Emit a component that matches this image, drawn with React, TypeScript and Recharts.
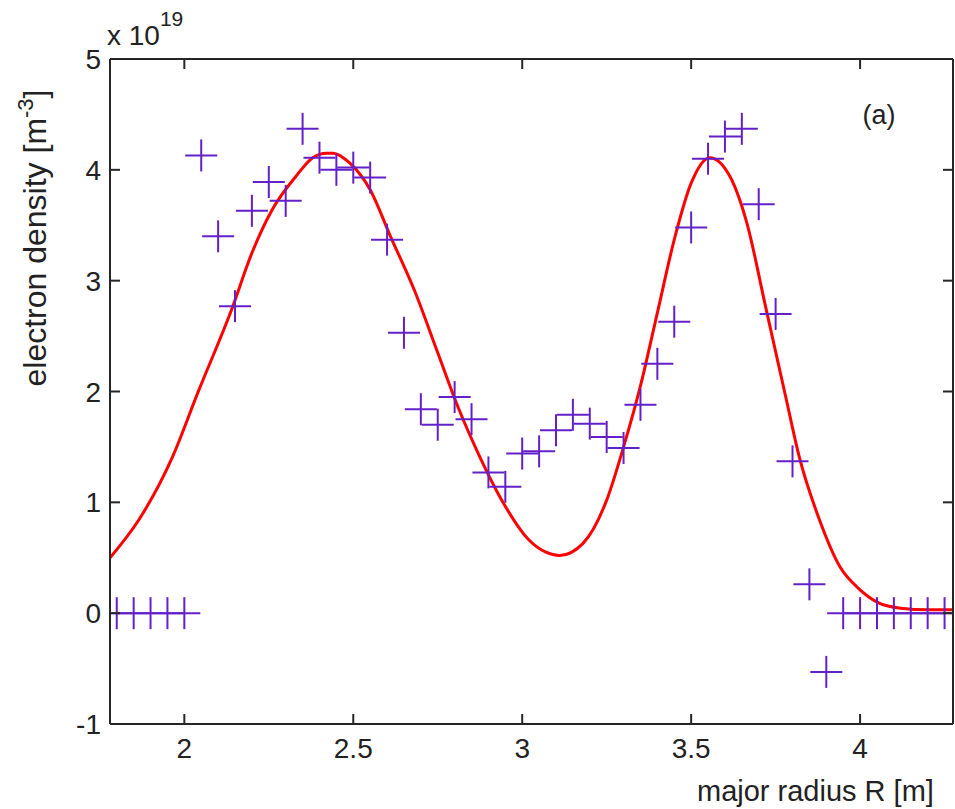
import React from 'react';
import { ComposedChart, Line, Scatter, XAxis, YAxis } from 'recharts';

// measured density points (units of 1e19 m^-3)
const radius = [
  1.8, 1.85, 1.9, 1.95, 2.0, 2.05, 2.1, 2.15, 2.2, 2.25,
  2.3, 2.35, 2.4, 2.45, 2.5, 2.55, 2.6, 2.65, 2.7, 2.75,
  2.8, 2.85, 2.9, 2.95, 3.0, 3.05, 3.1, 3.15, 3.2, 3.25,
  3.3, 3.35, 3.4, 3.45, 3.5, 3.55, 3.6, 3.65, 3.7, 3.75,
  3.8, 3.85, 3.9, 3.95, 4.0, 4.05, 4.1, 4.15, 4.2, 4.25,
];
const density = [
  0, 0, 0, 0, 0, 4.13, 3.40, 2.77, 3.63, 3.89,
  3.72, 4.37, 4.11, 4.00, 4.02, 3.93, 3.37, 2.53, 1.84, 1.70,
  1.95, 1.75, 1.27, 1.14, 1.44, 1.46, 1.65, 1.79, 1.71, 1.59,
  1.49, 1.88, 2.25, 2.63, 3.48, 4.10, 4.30, 4.37, 3.69, 2.70,
  1.37, 0.26, -0.53, 0, 0, 0, 0, 0, 0, 0,
];

// fitted profile
const fitR = [
  1.78, 1.865, 1.965, 2.04, 2.14, 2.2, 2.26, 2.33, 2.38, 2.42,
  2.44, 2.49, 2.55, 2.61, 2.68, 2.75, 2.81, 2.87, 2.945, 3.02,
  3.07, 3.11, 3.18, 3.25, 3.3, 3.35, 3.4, 3.45, 3.5, 3.555,
  3.615, 3.665, 3.72, 3.78, 3.82, 3.88, 3.94, 4.0, 4.05, 4.12,
  4.2, 4.275,
];
const fitN = [
  0.50, 0.84, 1.41, 1.99, 2.74, 3.25, 3.64, 3.94, 4.11, 4.15,
  4.15, 4.06, 3.82, 3.40, 2.92, 2.35, 1.86, 1.44, 0.99, 0.66,
  0.55, 0.52, 0.63, 1.02, 1.50, 2.05, 2.71, 3.37, 3.88, 4.11,
  3.94, 3.52, 2.77, 1.95, 1.41, 0.84, 0.42, 0.21, 0.10, 0.045,
  0.03, 0.03,
];

const xTicks = [2, 2.5, 3, 3.5, 4];
const yTicks = [-1, 0, 1, 2, 3, 4, 5];

const measured = radius.map((r, i) => ({ r, n: density[i] }));
const fit = fitR.map((r, i) => ({ r, n: fitN[i] }));

const FONT = '"Liberation Sans", Arial, sans-serif';
const AXIS = '#262626';
const TICK = 10;

const Cross = (props: any) => {
  const { cx, cy } = props;
  if (cx == null || cy == null) return null;
  const s = 16;
  return (
    <g stroke="#6420c8" strokeWidth={2}>
      <line x1={cx - s} y1={cy} x2={cx + s} y2={cy} />
      <line x1={cx} y1={cy - s} x2={cx} y2={cy + s} />
    </g>
  );
};

const BottomTick = ({ x, y, payload }: any) => (
  <g>
    <line x1={x} y1={y} x2={x} y2={y - TICK} stroke={AXIS} strokeWidth={2} />
    <text x={x} y={y + 34} textAnchor="middle" fontSize={28} fontFamily={FONT} fill="#222">
      {payload.value}
    </text>
  </g>
);
const TopTick = ({ x, y }: any) => (
  <line x1={x} y1={y} x2={x} y2={y + TICK} stroke={AXIS} strokeWidth={2} />
);
const LeftTick = ({ x, y, payload }: any) => (
  <g>
    <line x1={x} y1={y} x2={x + TICK} y2={y} stroke={AXIS} strokeWidth={2} />
    <text x={x - 9} y={y + 10} textAnchor="end" fontSize={28} fontFamily={FONT} fill="#222">
      {payload.value}
    </text>
  </g>
);
const RightTick = ({ x, y }: any) => (
  <line x1={x} y1={y} x2={x - TICK} y2={y} stroke={AXIS} strokeWidth={2} />
);

export default function App() {
  return (
    <div style={{ position: 'absolute', left: 0, top: 0, width: 955, height: 809, background: '#fff' }}>
      <ComposedChart
        width={955}
        height={809}
        margin={{ top: 58, right: 1, bottom: 45, left: 50 }}
      >
        <XAxis
          xAxisId="b"
          type="number"
          dataKey="r"
          domain={[1.78, 4.275]}
          ticks={xTicks}
          allowDataOverflow
          height={40}
          tickSize={0}
          tickMargin={0}
          tick={<BottomTick />}
          axisLine={{ stroke: AXIS, strokeWidth: 2 }}
        />
        <XAxis
          xAxisId="t"
          orientation="top"
          type="number"
          dataKey="r"
          domain={[1.78, 4.275]}
          ticks={xTicks}
          allowDataOverflow
          height={1}
          tickSize={0}
          tickMargin={0}
          tick={<TopTick />}
          axisLine={{ stroke: AXIS, strokeWidth: 2 }}
        />
        <YAxis
          yAxisId="l"
          type="number"
          domain={[-1, 5]}
          ticks={yTicks}
          allowDataOverflow
          width={60}
          tickSize={0}
          tickMargin={0}
          tick={<LeftTick />}
          axisLine={{ stroke: AXIS, strokeWidth: 2 }}
        />
        <YAxis
          yAxisId="r"
          orientation="right"
          type="number"
          domain={[-1, 5]}
          ticks={yTicks}
          allowDataOverflow
          width={1}
          tickSize={0}
          tickMargin={0}
          tick={<RightTick />}
          axisLine={{ stroke: AXIS, strokeWidth: 2 }}
        />
        <Line
          xAxisId="b"
          yAxisId="l"
          data={fit}
          dataKey="n"
          type="monotone"
          stroke="#ff0000"
          strokeWidth={3}
          dot={false}
          activeDot={false}
          isAnimationActive={false}
        />
        <Scatter
          xAxisId="b"
          yAxisId="l"
          data={measured}
          dataKey="n"
          shape={<Cross />}
          isAnimationActive={false}
        />
      </ComposedChart>
      <svg
        width={955}
        height={809}
        style={{ position: 'absolute', left: 0, top: 0, pointerEvents: 'none' }}
        fontFamily={FONT}
        fill="#222"
      >
        <text x={107} y={45} fontSize={28}>
          x 10<tspan dy={-19} fontSize={21}>19</tspan>
        </text>
        <text transform="translate(46,238) rotate(-90)" textAnchor="middle" fontSize={32}>
          electron density [m<tspan dy={-13} fontSize={22}>-3</tspan>
          <tspan dy={13}>]</tspan>
        </text>
        <text x={879} y={124} textAnchor="middle" fontSize={27}>(a)</text>
        <text x={697} y={801} fontSize={29}>major radius R [m]</text>
      </svg>
    </div>
  );
}
